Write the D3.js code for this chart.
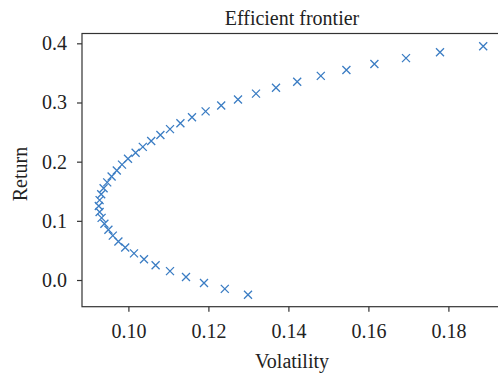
<!DOCTYPE html>
<html>
<head>
<meta charset="utf-8">
<script src="https://cdn.jsdelivr.net/npm/d3@7"></script>
<style>
  body { margin: 0; background: #fff; }
  svg { display: block; font-family: "Liberation Serif", "DejaVu Serif", serif; }
</style>
</head>
<body>
<div class="chart"></div>
<script>
// portfolio returns, one point per 0.01 step
const returns = [
  -0.025, -0.015, -0.005, 0.005, 0.015, 0.025, 0.035, 0.045, 0.055, 0.065,
  0.075, 0.085, 0.095, 0.105, 0.115, 0.125, 0.135, 0.145, 0.155, 0.165,
  0.175, 0.185, 0.195, 0.205, 0.215, 0.225, 0.235, 0.245, 0.255, 0.265,
  0.275, 0.285, 0.295, 0.305, 0.315, 0.325, 0.335, 0.345, 0.355, 0.365,
  0.375, 0.385, 0.395
];
const volatility = [
  0.1299, 0.1241, 0.1189, 0.1144, 0.1104, 0.1068, 0.1039, 0.1014, 0.0992, 0.0975,
  0.0961, 0.0950, 0.0940, 0.0933, 0.0928, 0.0926, 0.0928, 0.0932, 0.0938, 0.0947,
  0.0958, 0.0971, 0.0984, 0.0999, 0.1018, 0.1036, 0.1057, 0.1080, 0.1104, 0.1130,
  0.1159, 0.1193, 0.1232, 0.1274, 0.1319, 0.1369, 0.1422, 0.1481, 0.1545, 0.1615,
  0.1694, 0.1779, 0.1887
];
const xTicks = [0.10, 0.12, 0.14, 0.16, 0.18];
const yTicks = [0.0, 0.1, 0.2, 0.3, 0.4];

const width = 498;
const height = 376;
const margin = {top: 33.5, right: -3, bottom: 69.3, left: 82};
const color = '#3a7cc3';
const fontSize = 20;

const data = returns.map((r, i) => ({x: volatility[i], y: r}));

const svg = d3.select('.chart').append('svg')
  .attr('width', width)
  .attr('height', height);

const scaleX = d3.scaleLinear()
  .domain([0.0884, 0.19315])
  .range([margin.left, width - margin.right]);

const scaleY = d3.scaleLinear()
  .domain([-0.0451, 0.4166])
  .range([height - margin.bottom, margin.top]);

const xAxis = d3.axisBottom(scaleX)
  .tickValues(xTicks)
  .tickFormat(d3.format('.2f'))
  .tickSize(5)
  .tickPadding(12)
  .tickSizeOuter(0);

const yAxis = d3.axisLeft(scaleY)
  .tickValues(yTicks)
  .tickFormat(d3.format('.1f'))
  .tickSize(5)
  .tickPadding(10)
  .tickSizeOuter(0);

// frame
svg.append('rect')
  .attr('x', margin.left)
  .attr('y', margin.top)
  .attr('width', width - margin.right - margin.left)
  .attr('height', height - margin.bottom - margin.top)
  .attr('fill', 'none')
  .attr('stroke', '#333')
  .attr('stroke-width', 1.2);

const gx = svg.append('g')
  .attr('transform', 'translate(0,' + (height - margin.bottom) + ')')
  .call(xAxis);

const gy = svg.append('g')
  .attr('transform', 'translate(' + margin.left + ',0)')
  .call(yAxis);

[gx, gy].forEach((g) => {
  g.select('.domain').remove();
  g.selectAll('line').attr('stroke', '#333').attr('stroke-width', 1.2);
  g.selectAll('text')
    .attr('fill', '#222')
    .style('font-size', fontSize + 'px')
    .style('font-family', '"Liberation Serif", serif');
});

// markers
const arm = 4;
const g = svg.append('g').attr('class', 'body');

g.selectAll('path.pt')
  .data(data)
  .enter()
  .append('path')
  .attr('class', 'pt')
  .attr('d', (d) => {
    const cx = scaleX(d.x);
    const cy = scaleY(d.y);
    return 'M' + (cx - arm) + ',' + (cy - arm) + 'L' + (cx + arm) + ',' + (cy + arm) +
      'M' + (cx - arm) + ',' + (cy + arm) + 'L' + (cx + arm) + ',' + (cy - arm);
  })
  .attr('stroke', color)
  .attr('stroke-width', 1.3)
  .attr('fill', 'none');

// labels
svg.append('text')
  .attr('x', 292)
  .attr('y', 25)
  .attr('text-anchor', 'middle')
  .attr('fill', '#222')
  .style('font-size', fontSize + 'px')
  .text('Efficient frontier');

svg.append('text')
  .attr('x', 292)
  .attr('y', 368)
  .attr('text-anchor', 'middle')
  .attr('fill', '#222')
  .style('font-size', fontSize + 'px')
  .text('Volatility');

svg.append('text')
  .attr('transform', 'translate(26.5,174) rotate(-90)')
  .attr('text-anchor', 'middle')
  .attr('fill', '#222')
  .style('font-size', fontSize + 'px')
  .text('Return');
</script>
</body>
</html>
